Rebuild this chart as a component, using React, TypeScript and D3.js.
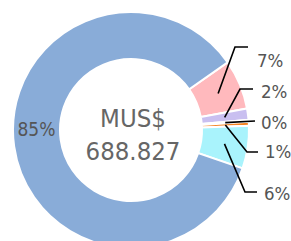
import React from "react";
import * as d3 from "d3";

// Data (MUS$)
const categories = ["Cat A", "Cat B", "Cat C", "Cat D", "Cat E", "Cat F"];
const values = [46.84, 10.68, 1.72, 3.79, 40.3, 585.497];
const colors = ["#ffb9bd", "#c9bff0", "#e8e8e8", "#f5821f", "#a9f3fc", "#89acd8"];
const totalLabel = "688.827";
const unitLabel = "MUS$";

// Label layout (leader line elbow / end / text position) for the outer labels
const outerLayout = [
  { ex: 235, ly: 47, endX: 248, tx: 257, ty: 67 },
  { ex: 240, ly: 89, endX: 253, tx: 261, ty: 98 },
  { ex: 255, ly: 121, endX: 255, tx: 261, ty: 129 },
  { ex: 247, ly: 152, endX: 258, tx: 265, ty: 158 },
  { ex: 245, ly: 192, endX: 257, tx: 264, ty: 200 },
];

const W = 291;
const H = 241;
const cx = 131;
const cy = 130;
const rOut = 118;
const rIn = 71;
const deg = Math.PI / 180;

export default function App() {
  const total = d3.sum(values);
  const pie = d3
    .pie<number>()
    .sort(null)
    .value((d) => d)
    .startAngle(55 * deg)
    .endAngle(55 * deg + 2 * Math.PI);
  const arcs = pie(values);
  const arc = d3.arc<d3.PieArcDatum<number>>().innerRadius(rIn).outerRadius(rOut);
  const pct = (v: number) => `${Math.round((v / total) * 100)}%`;
  const font = "'DejaVu Sans Condensed', 'DejaVu Sans', sans-serif";
  const rMid = (rIn + rOut) / 2;

  return (
    <svg
      width={W}
      height={H}
      style={{ position: "absolute", left: 0, top: 0 }}
      fontFamily={font}
    >
      <g transform={`translate(${cx},${cy})`}>
        {arcs.map((a, i) => (
          <path key={categories[i]} d={arc(a) || ""} fill={colors[i]} stroke="#fff" strokeWidth={2} />
        ))}
      </g>
      {arcs.slice(0, 5).map((a, i) => {
        const [x0, y0] = arc.centroid(a);
        const L = outerLayout[i];
        const pts = `${cx + x0},${cy + y0} ${L.ex},${L.ly} ${L.endX},${L.ly}`;
        return (
          <g key={"lab" + i}>
            <polyline points={pts} fill="none" stroke="#000" strokeWidth={1.6} />
            <text x={L.tx} y={L.ty} fontSize={18.5} fill="#555">
              {pct(values[i])}
            </text>
          </g>
        );
      })}
      <text x={cx - rMid} y={cy + 6} fontSize={19} fill="#555" textAnchor="middle">
        {pct(values[5])}
      </text>
      <text x={cx + 2} y={127} fontSize={25.5} fill="#666" textAnchor="middle">
        {unitLabel}
      </text>
      <text x={cx + 2} y={160} fontSize={25.5} fill="#666" textAnchor="middle">
        {totalLabel}
      </text>
    </svg>
  );
}
